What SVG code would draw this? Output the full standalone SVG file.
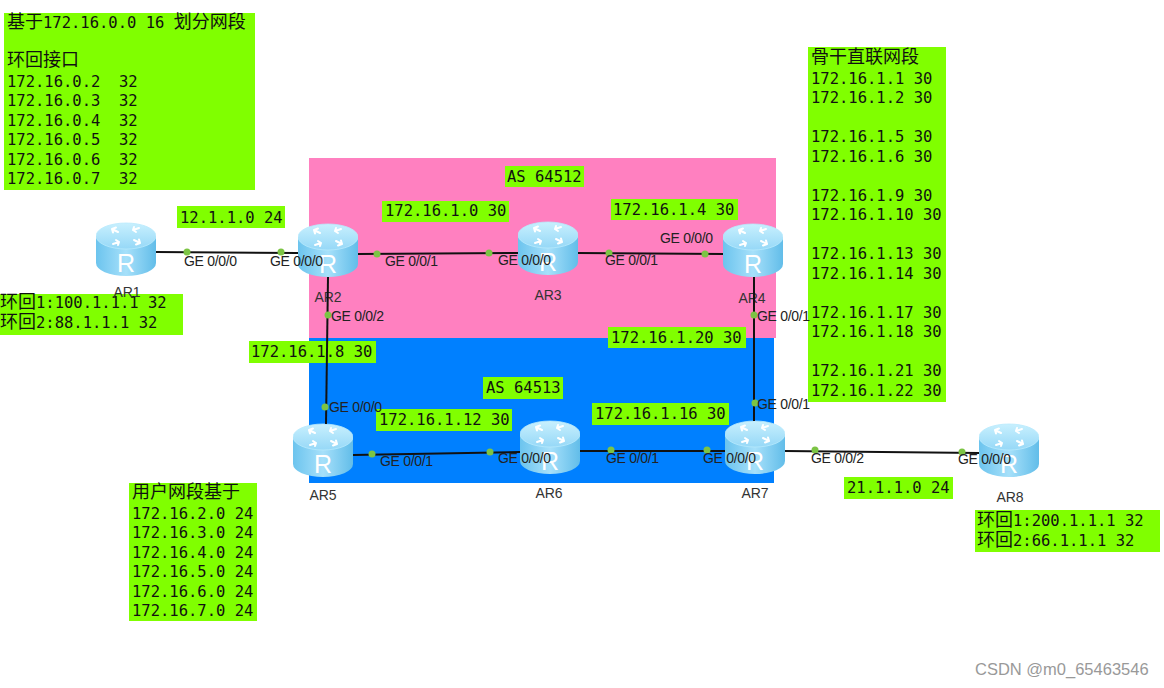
<svg xmlns="http://www.w3.org/2000/svg" xmlns:xlink="http://www.w3.org/1999/xlink" width="1164" height="688" viewBox="0 0 1164 688">
<style>
.box{fill:#80ff00}
.mono{font-family:"DejaVu Sans Mono","Liberation Mono",monospace;font-size:15.5px;fill:#111;white-space:pre}
.cjk{font-family:"Noto Sans CJK SC","Noto Sans",sans-serif;font-size:18px}
.ge{font-family:"Liberation Sans",Arial,sans-serif;font-size:14px;fill:#222;letter-spacing:-0.3px}
.rl{font-family:"Liberation Sans",Arial,sans-serif;font-size:14px;fill:#333;text-anchor:middle}
.link{stroke:#111;stroke-width:2;fill:none}
.dot{fill:#7cc444}
.wm{font-family:"Liberation Sans",Arial,sans-serif;font-size:16.5px;fill:#999}
</style>
<defs>
<linearGradient id="body" x1="0" y1="0" x2="1" y2="0">
<stop offset="0" stop-color="#6cc4ee"/>
<stop offset="0.5" stop-color="#a6e0fa"/>
<stop offset="1" stop-color="#62bde9"/>
</linearGradient>
<linearGradient id="top" x1="0" y1="0" x2="0" y2="1">
<stop offset="0" stop-color="#c8f0fe"/>
<stop offset="1" stop-color="#96d8f7"/>
</linearGradient>
<symbol id="router" viewBox="0 0 60 55">
<path d="M0,14 L0,41 A30,13 0 0 0 60,41 L60,14 Z" fill="url(#body)"/>
<ellipse cx="30" cy="14" rx="30" ry="13" fill="url(#top)" stroke="#b8eafc" stroke-width="0.8"/>
<g stroke="#fff" stroke-width="2" fill="none" stroke-linecap="round">
<path d="M22,10 L16,7 M16,7 L20,5.5 M16,7 L17,10.5"/>
<path d="M38,18 L44,21 M44,21 L40,22.5 M44,21 L43,17.5"/>
<path d="M37,8 L43,6 M37,8 L38,5 M37,8 L40,10"/>
<path d="M23,20 L17,22 M23,20 L22,23 M23,20 L20,18"/>
</g>
<text x="30" y="50" text-anchor="middle" font-family="Liberation Sans,Arial,sans-serif" font-size="25" fill="#fff">R</text>
</symbol>
</defs>
<rect width="1164" height="688" fill="#fff"/>
<g id="as64512"><rect x="309" y="158" width="467" height="180" fill="#ff80c0"/></g>
<g id="as64513"><rect x="309" y="338" width="465" height="145" fill="#0080ff"/></g>

<g id="note-loopback">
<rect class="box" x="4" y="13" width="251" height="177"/>
<text class="mono" x="7" y="28"><tspan class="cjk">基于</tspan>172.16.0.0 16 <tspan class="cjk">划分网段</tspan></text>
<text class="mono" x="7" y="66"><tspan class="cjk">环回接口</tspan></text>
<text class="mono" x="7" y="86.5" xml:space="preserve">172.16.0.2  32</text>
<text class="mono" x="7" y="106" xml:space="preserve">172.16.0.3  32</text>
<text class="mono" x="7" y="125.5" xml:space="preserve">172.16.0.4  32</text>
<text class="mono" x="7" y="145" xml:space="preserve">172.16.0.5  32</text>
<text class="mono" x="7" y="164.5" xml:space="preserve">172.16.0.6  32</text>
<text class="mono" x="7" y="184" xml:space="preserve">172.16.0.7  32</text>
</g>

<g id="note-backbone">
<rect class="box" x="808" y="47" width="138" height="355"/>
<text class="mono" x="811" y="63"><tspan class="cjk">骨干直联网段</tspan></text>
<text class="mono" x="811" y="83.5">172.16.1.1 30</text>
<text class="mono" x="811" y="103">172.16.1.2 30</text>
<text class="mono" x="811" y="142">172.16.1.5 30</text>
<text class="mono" x="811" y="161.5">172.16.1.6 30</text>
<text class="mono" x="811" y="200.5">172.16.1.9 30</text>
<text class="mono" x="811" y="220">172.16.1.10 30</text>
<text class="mono" x="811" y="259">172.16.1.13 30</text>
<text class="mono" x="811" y="278.5">172.16.1.14 30</text>
<text class="mono" x="811" y="317.5">172.16.1.17 30</text>
<text class="mono" x="811" y="337">172.16.1.18 30</text>
<text class="mono" x="811" y="376">172.16.1.21 30</text>
<text class="mono" x="811" y="395.5">172.16.1.22 30</text>
</g>

<g id="note-user">
<rect class="box" x="129" y="483" width="128" height="138"/>
<text class="mono" x="132" y="498"><tspan class="cjk">用户网段基于</tspan></text>
<text class="mono" x="132" y="518.5">172.16.2.0 24</text>
<text class="mono" x="132" y="538">172.16.3.0 24</text>
<text class="mono" x="132" y="557.5">172.16.4.0 24</text>
<text class="mono" x="132" y="577">172.16.5.0 24</text>
<text class="mono" x="132" y="596.5">172.16.6.0 24</text>
<text class="mono" x="132" y="616">172.16.7.0 24</text>
</g>

<g id="note-ar1-loop">
<rect class="box" x="0" y="294" width="183" height="41"/>
<text class="mono" x="0" y="308"><tspan class="cjk">环回</tspan>1:100.1.1.1 32</text>
<text class="mono" x="0" y="328"><tspan class="cjk">环回</tspan>2:88.1.1.1 32</text>
</g>

<g id="note-ar8-loop">
<rect class="box" x="975" y="510" width="185" height="42"/>
<text class="mono" x="977" y="526"><tspan class="cjk">环回</tspan>1:200.1.1.1 32</text>
<text class="mono" x="977" y="545.5"><tspan class="cjk">环回</tspan>2:66.1.1.1 32</text>
</g>

<g id="label-12">
<rect class="box" x="177" y="206" width="108" height="22"/>
<text class="mono" x="180" y="222.5">12.1.1.0 24</text>
</g>
<g id="label-as64512">
<rect class="box" x="505" y="166" width="79" height="21"/>
<text class="mono" x="507" y="182">AS 64512</text>
</g>
<g id="label-1-0">
<rect class="box" x="382" y="201" width="127" height="21"/>
<text class="mono" x="385" y="216">172.16.1.0 30</text>
</g>
<g id="label-1-4">
<rect class="box" x="611" y="199" width="127" height="21"/>
<text class="mono" x="613" y="214.5">172.16.1.4 30</text>
</g>
<g id="label-1-8">
<rect class="box" x="249" y="341" width="127" height="22"/>
<text class="mono" x="251" y="357">172.16.1.8 30</text>
</g>
<g id="label-1-20">
<rect class="box" x="608" y="327" width="138" height="21"/>
<text class="mono" x="611" y="342.5">172.16.1.20 30</text>
</g>
<g id="label-as64513">
<rect class="box" x="483" y="377" width="80" height="22"/>
<text class="mono" x="486" y="393">AS 64513</text>
</g>
<g id="label-1-12">
<rect class="box" x="376" y="409" width="136" height="22"/>
<text class="mono" x="379" y="425">172.16.1.12 30</text>
</g>
<g id="label-1-16">
<rect class="box" x="592" y="403" width="137" height="22"/>
<text class="mono" x="595" y="419">172.16.1.16 30</text>
</g>
<g id="label-21">
<rect class="box" x="844" y="477" width="109" height="22"/>
<text class="mono" x="847" y="493">21.1.1.0 24</text>
</g>

<g id="AR1"><use xlink:href="#router" href="#router" x="96" y="222" width="60" height="55"/><text class="rl" x="127" y="297">AR1</text></g>
<g id="AR2"><use xlink:href="#router" href="#router" x="298" y="223" width="60" height="55"/><text class="rl" x="328" y="302">AR2</text></g>
<g id="AR3"><use xlink:href="#router" href="#router" x="518" y="221" width="60" height="55"/><text class="rl" x="548" y="300">AR3</text></g>
<g id="AR4"><use xlink:href="#router" href="#router" x="723" y="223" width="60" height="55"/><text class="rl" x="752" y="303">AR4</text></g>
<g id="AR5"><use xlink:href="#router" href="#router" x="293" y="423" width="60" height="55"/><text class="rl" x="323" y="500">AR5</text></g>
<g id="AR6"><use xlink:href="#router" href="#router" x="520" y="420" width="60" height="55"/><text class="rl" x="549" y="498">AR6</text></g>
<g id="AR7"><use xlink:href="#router" href="#router" x="725" y="420" width="60" height="55"/><text class="rl" x="755" y="498">AR7</text></g>
<g id="AR8"><use xlink:href="#router" href="#router" x="979" y="423" width="60" height="55"/><text class="rl" x="1010" y="502">AR8</text></g>

<g id="connectors">
<line class="link" x1="156" y1="252" x2="298" y2="253"/>
<line class="link" x1="358" y1="254" x2="518" y2="253"/>
<line class="link" x1="578" y1="253" x2="723" y2="254"/>
<line class="link" x1="328" y1="277" x2="326" y2="424"/>
<line class="link" x1="754" y1="277" x2="754" y2="421"/>
<line class="link" x1="353" y1="455" x2="520" y2="452"/>
<line class="link" x1="580" y1="451" x2="725" y2="451"/>
<line class="link" x1="785" y1="451" x2="979" y2="453"/>
<circle class="dot" cx="187" cy="252" r="3.5"/>
<circle class="dot" cx="281" cy="252" r="3.5"/>
<circle class="dot" cx="377" cy="254" r="3.5"/>
<circle class="dot" cx="489" cy="253" r="3.5"/>
<circle class="dot" cx="609" cy="253" r="3.5"/>
<circle class="dot" cx="705" cy="254" r="3.5"/>
<circle class="dot" cx="328" cy="315" r="3.5"/>
<circle class="dot" cx="325" cy="407" r="3.5"/>
<circle class="dot" cx="754" cy="315" r="3.5"/>
<circle class="dot" cx="755" cy="403" r="3.5"/>
<circle class="dot" cx="372" cy="454" r="3.5"/>
<circle class="dot" cx="490" cy="452" r="3.5"/>
<circle class="dot" cx="611" cy="450" r="3.5"/>
<circle class="dot" cx="707" cy="450" r="3.5"/>
<circle class="dot" cx="815" cy="450" r="3.5"/>
<circle class="dot" cx="962" cy="452" r="3.5"/>
<text class="ge" x="184" y="266">GE 0/0/0</text>
<text class="ge" x="270" y="266">GE 0/0/0</text>
<text class="ge" x="385" y="266">GE 0/0/1</text>
<text class="ge" x="498" y="265">GE 0/0/0</text>
<text class="ge" x="605" y="265">GE 0/0/1</text>
<text class="ge" x="660" y="243">GE 0/0/0</text>
<text class="ge" x="331" y="321">GE 0/0/2</text>
<text class="ge" x="329" y="412">GE 0/0/0</text>
<text class="ge" x="757" y="321">GE 0/0/1</text>
<text class="ge" x="757" y="409">GE 0/0/1</text>
<text class="ge" x="380" y="466">GE 0/0/1</text>
<text class="ge" x="498" y="463">GE 0/0/0</text>
<text class="ge" x="606" y="463">GE 0/0/1</text>
<text class="ge" x="703" y="463">GE 0/0/0</text>
<text class="ge" x="811" y="463">GE 0/0/2</text>
<text class="ge" x="958" y="464">GE 0/0/0</text>
</g>

<text class="wm" x="975" y="675">CSDN @m0_65463546</text>
</svg>
